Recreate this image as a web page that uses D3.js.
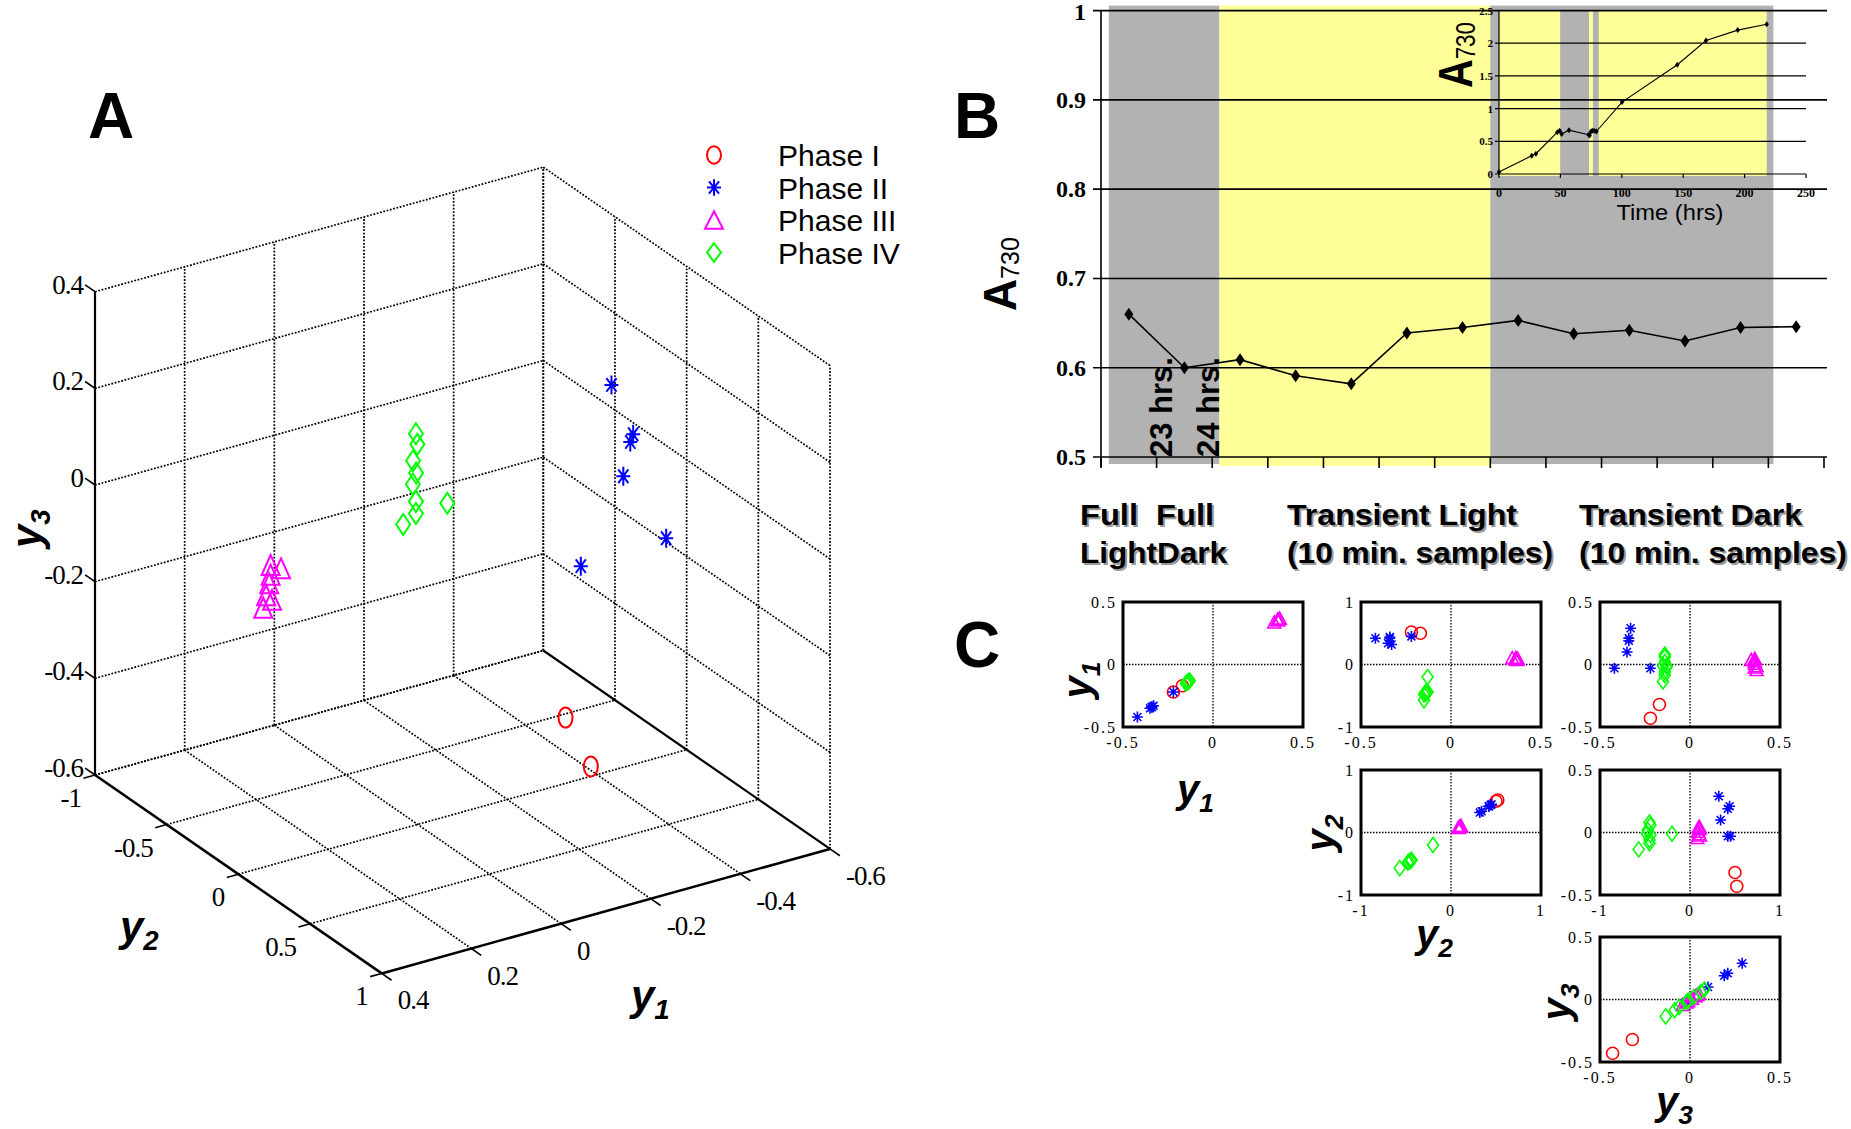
<!DOCTYPE html>
<html>
<head>
<meta charset="utf-8">
<script src="https://cdnjs.cloudflare.com/ajax/libs/d3/7.8.5/d3.min.js"></script>
<style>
  body { margin: 0; background: #fff; }
  svg { display: block; }
</style>
</head>
<body>
<svg id="fig" width="1851" height="1129"></svg>
<script>
// ---------- data ----------
const phaseNames   = ["Phase I", "Phase II", "Phase III", "Phase IV"];
const phaseColors  = ["#ff0000", "#0000ff", "#ff00ff", "#00ff00"];
const phaseSymbols = ["circle", "star", "triangle", "diamond"];

// principal-component scores [y1, y2, y3] of each sample
const phase1Scores = [[-0.22, 0.52, -0.43], [-0.17, 0.50, -0.32]];
const phase2Scores = [[-0.33, 0.32, 0.29], [-0.34, 0.44, 0.21], [-0.34, 0.42, 0.19],
                      [-0.35, 0.34, 0.10], [-0.42, 0.42, -0.03], [-0.22, 0.45, -0.03]];
const phase3Scores = [[0.36, 0.10, 0.05], [0.34, 0.11, 0.04], [0.36, 0.10, 0.03],
                      [0.36, 0.09, 0.01], [0.37, 0.10, -0.01], [0.36, 0.11, -0.02],
                      [0.37, 0.08, -0.04]];
const phase4Scores = [[-0.14, -0.45, 0.08], [-0.14, -0.44, 0.06], [-0.14, -0.47, 0.02],
                      [-0.15, -0.48, -0.01], [-0.13, -0.44, -0.02], [-0.14, -0.45, -0.06],
                      [-0.14, -0.45, -0.085], [-0.15, -0.57, -0.135], [-0.13, -0.20, -0.01]];
const phaseScores = [phase1Scores, phase2Scores, phase3Scores, phase4Scores];

const y1Ticks = [0.4, 0.2, 0, -0.2, -0.4, -0.6];
const y2Ticks = [-1, -0.5, 0, 0.5, 1];
const y3Ticks = [-0.6, -0.4, -0.2, 0, 0.2, 0.4];

// panel B: absorbance of consecutive samples across the light / dark regime
const sampleNo = [1, 2, 3, 4, 5, 6, 7, 8, 9, 10, 11, 12, 13];
const a730 = [0.660, 0.600, 0.609, 0.591, 0.582, 0.639, 0.645, 0.653, 0.638, 0.642, 0.630, 0.645, 0.646];
const a730Ticks = [0.5, 0.6, 0.7, 0.8, 0.9, 1];
const regimeSpans = [
  { from: 0.14, to: 2.13, kind: "dark" },
  { from: 2.13, to: 7.0, kind: "light" },
  { from: 7.0, to: 12.09, kind: "dark" }
];
const sampleNotes = [{ at: 1.27, text: "23 hrs." }, { at: 2.13, text: "24 hrs." }];

// inset: whole growth curve
const growthHrs  = [0, 26.6, 30.1, 47.5, 49.4, 51.0, 57, 73, 73.8, 74.9, 76, 77.6, 79.3, 100.2, 145.2, 168.6, 194.4, 218];
const growthA730 = [0.03, 0.28, 0.31, 0.64, 0.66, 0.61, 0.67, 0.60, 0.59, 0.65, 0.66, 0.66, 0.65, 1.10, 1.67, 2.04, 2.20, 2.29];
const growthSpans = [
  { from: 0, to: 50, kind: "light" },
  { from: 50, to: 73.3, kind: "dark" },
  { from: 73.3, to: 76.5, kind: "light" },
  { from: 76.5, to: 81.2, kind: "dark" },
  { from: 81.2, to: 218, kind: "light" }
];
const growthXTicks = [0, 50, 100, 150, 200, 250];
const growthYTicks = [0, 0.5, 1, 1.5, 2, 2.5];

// panel C: pairwise score plots
const cHeaders = [
  { lines: ["Full\u00a0\u00a0Full", "LightDark"], x: 1080, w: [134, 147] },
  { lines: ["Transient Light", "(10 min. samples)"], x: 1287, w: [230, 266] },
  { lines: ["Transient Dark", "(10 min. samples)"], x: 1579, w: [223, 268] }
];
const cPanels = [
  { col: 0, row: 0, xi: 0, yi: 0, xDom: [-0.5, 0.5], yDom: [-0.5, 0.5] },
  { col: 1, row: 0, xi: 0, yi: 1, xDom: [-0.5, 0.5], yDom: [-1, 1] },
  { col: 2, row: 0, xi: 0, yi: 2, xDom: [-0.5, 0.5], yDom: [-0.5, 0.5] },
  { col: 1, row: 1, xi: 1, yi: 1, xDom: [-1, 1], yDom: [-1, 1] },
  { col: 2, row: 1, xi: 1, yi: 2, xDom: [-1, 1], yDom: [-0.5, 0.5] },
  { col: 2, row: 2, xi: 2, yi: 2, xDom: [-0.5, 0.5], yDom: [-0.5, 0.5] }
];

// ---------- helpers ----------
const svg = d3.select("#fig");
const SERIF = "'Liberation Serif', 'Times New Roman', serif";
const SANS = "'Liberation Sans', Arial, sans-serif";
const num = v => d3.format("~g")(v).replace("\u2212", "-");

function markerPath(sym, w, h) {
  const a = w / 2, b = h / 2;
  if (sym === "circle") return `M${-a},0A${a},${b} 0 1,0 ${a},0A${a},${b} 0 1,0 ${-a},0Z`;
  if (sym === "star") {
    const da = a * 0.72, db = b * 0.72;
    return `M0,${-b}V${b}M${-a},0H${a}M${-da},${-db}L${da},${db}M${-da},${db}L${da},${-db}`;
  }
  if (sym === "triangle") return `M0,${-b}L${a},${b}L${-a},${b}Z`;
  return `M0,${-b}L${a},0L0,${b}L${-a},0Z`;
}
const bigMarker = { circle: [14, 20], star: [14, 19], triangle: [18, 20], diamond: [14, 21] };
const smallMarker = { circle: [12, 12], star: [11, 11], triangle: [13, 12], diamond: [11, 15] };

// subscripted axis name such as y₁
function varLabel(g, x, y, idx, opts) {
  const t = g.append("text")
    .attr("transform", `translate(${x},${y})${opts.rotate ? " rotate(-90)" : ""}`)
    .attr("text-anchor", opts.anchor || "start")
    .attr("font-family", SANS).attr("font-weight", "bold").attr("font-style", "italic")
    .attr("font-size", opts.size || 40);
  t.append("tspan").text("y");
  t.append("tspan").attr("dy", 9).attr("font-size", (opts.size || 40) * 0.66).text(String(idx + 1));
  return t;
}

// ---------- panel A: 3-D score plot ----------
const gA = svg.append("g");
const s1 = d3.scaleLinear().domain([0.4, -0.6]).range([0, 1]);
const s2 = d3.scaleLinear().domain([-1, 1]).range([0, 1]);
const s3 = d3.scaleLinear().domain([-0.6, 0.4]).range([0, 1]);
const O = [95, 775], E1 = [448.3, -124.5], E2 = [286.7, 198.4], E3 = [0, -483.3];
function P(a, b, c) {
  const u = s1(a), v = s2(b), w = s3(c);
  return [O[0] + u * E1[0] + v * E2[0] + w * E3[0], O[1] + u * E1[1] + v * E2[1] + w * E3[1]];
}
function seg(g, p, q, dotted, width) {
  g.append("line").attr("x1", p[0]).attr("y1", p[1]).attr("x2", q[0]).attr("y2", q[1])
    .attr("stroke", "#000").attr("stroke-width", width || (dotted ? 1.7 : 2.2))
    .attr("stroke-dasharray", dotted ? "1.8 1.6" : null);
}
const y1Min = -0.6, y1Max = 0.4, y2Min = -1, y2Max = 1, y3Min = -0.6, y3Max = 0.4;
// back-left wall (y2 = -1)
y1Ticks.filter(v => v !== y1Max).forEach(v => seg(gA, P(v, y2Min, y3Min), P(v, y2Min, y3Max), true));
y3Ticks.forEach(v => seg(gA, P(y1Max, y2Min, v), P(y1Min, y2Min, v), true));
// back-right wall (y1 = -0.6)
y2Ticks.forEach(v => seg(gA, P(y1Min, v, y3Min), P(y1Min, v, y3Max), true));
y3Ticks.filter(v => v !== y3Min).forEach(v => seg(gA, P(y1Min, y2Min, v), P(y1Min, y2Max, v), true));
// floor (y3 = -0.6)
y1Ticks.filter(v => v !== y1Max && v !== y1Min).forEach(v => seg(gA, P(v, y2Min, y3Min), P(v, y2Max, y3Min), true));
y2Ticks.filter(v => v !== y2Max).forEach(v => seg(gA, P(y1Max, v, y3Min), P(y1Min, v, y3Min), true));
// solid axes
seg(gA, P(y1Max, y2Min, y3Min), P(y1Max, y2Min, y3Max), false);
seg(gA, P(y1Max, y2Min, y3Min), P(y1Max, y2Max, y3Min), false, 2.6);
seg(gA, P(y1Max, y2Max, y3Min), P(y1Min, y2Max, y3Min), false, 2.6);
seg(gA, P(y1Min, y2Min, y3Min), P(y1Min, y2Max, y3Min), false, 2.2);

const len = v => Math.hypot(v[0], v[1]);
const dirY1 = [-E1[0] / len(E1), -E1[1] / len(E1)];   // towards larger y1
const dirY2 = [E2[0] / len(E2), E2[1] / len(E2)];     // towards larger y2
const TICK = 12;
// y3 axis ticks + labels
y3Ticks.forEach(v => {
  const p = P(y1Max, y2Min, v);
  seg(gA, p, [p[0] - dirY2[0] * TICK, p[1] - dirY2[1] * TICK], false, 1.6);
  gA.append("text").attr("x", p[0] - 12).attr("y", p[1] - 7).attr("text-anchor", "end")
    .attr("dominant-baseline", "central").attr("font-family", SERIF).attr("font-size", 27)
    .attr("letter-spacing", -1).text(num(v));
});
// y2 axis ticks + labels
y2Ticks.forEach(v => {
  const p = P(y1Max, v, y3Min);
  seg(gA, p, [p[0] + dirY1[0] * TICK, p[1] + dirY1[1] * TICK], false, 1.6);
  gA.append("text").attr("x", p[0] - 14).attr("y", p[1] + 23).attr("text-anchor", "end")
    .attr("dominant-baseline", "central").attr("font-family", SERIF).attr("font-size", 27)
    .attr("letter-spacing", -1).text(num(v));
});
// y1 axis ticks + labels
y1Ticks.forEach(v => {
  const p = P(v, y2Max, y3Min);
  seg(gA, p, [p[0] + dirY2[0] * TICK, p[1] + dirY2[1] * TICK], false, 1.6);
  gA.append("text").attr("x", p[0] + 16).attr("y", p[1] + 27).attr("text-anchor", "start")
    .attr("dominant-baseline", "central").attr("font-family", SERIF).attr("font-size", 27)
    .attr("letter-spacing", -1).text(num(v));
});
varLabel(gA, 41, 548, 2, { rotate: true, size: 42 });
varLabel(gA, 120, 941, 1, { size: 42 });
varLabel(gA, 631, 1010, 0, { size: 42 });

// 3-D markers
phaseScores.forEach((pts, k) => {
  const [w, h] = bigMarker[phaseSymbols[k]];
  gA.append("g").selectAll("path").data(pts).join("path")
    .attr("transform", d => { const p = P(d[0], d[1], d[2]); return `translate(${p[0]},${p[1]})`; })
    .attr("d", markerPath(phaseSymbols[k], w, h))
    .attr("fill", "none").attr("stroke", phaseColors[k]).attr("stroke-width", 2);
});

// legend
phaseNames.forEach((name, k) => {
  const yRow = 155 + k * 32.5;
  const [w, h] = bigMarker[phaseSymbols[k]];
  gA.append("path").attr("transform", `translate(714,${yRow})`)
    .attr("d", markerPath(phaseSymbols[k], w, h * 0.88))
    .attr("fill", "none").attr("stroke", phaseColors[k]).attr("stroke-width", 2);
  gA.append("text").attr("x", 778).attr("y", yRow + 11).attr("font-family", SANS)
    .attr("font-size", 30).text(name);
});

// ---------- panel B ----------
const gB = svg.append("g");
const xIdx = d3.scaleLinear().domain([0, 13]).range([1101, 1824]);
const yB = d3.scaleLinear().domain([0.5, 1]).range([457, 10.6]);
const GRAY = "#b2b2b2", YELLOW = "#ffff99";

regimeSpans.forEach(s => {
  gB.append("rect").attr("x", xIdx(s.from)).attr("width", xIdx(s.to) - xIdx(s.from))
    .attr("y", yB(1) - 5).attr("height", yB(0.5) - yB(1) + (s.kind === "dark" ? 12 : 14))
    .attr("fill", s.kind === "dark" ? GRAY : YELLOW);
});

// inset scales and background
const xT = d3.scaleLinear().domain([0, 250]).range([1499, 1806]);
const yT = d3.scaleLinear().domain([0, 2.5]).range([174, 10.5]);
growthSpans.forEach(s => {
  gB.append("rect").attr("x", xT(s.from)).attr("width", xT(s.to) - xT(s.from))
    .attr("y", yT(2.5)).attr("height", yT(0) - yT(2.5) + 2)
    .attr("fill", s.kind === "dark" ? GRAY : YELLOW);
});

// main gridlines and axes
a730Ticks.forEach(v => {
  gB.append("line").attr("x1", 1093).attr("x2", 1827).attr("y1", yB(v)).attr("y2", yB(v))
    .attr("stroke", "#000").attr("stroke-width", 1.6);
  gB.append("text").attr("x", 1086).attr("y", yB(v) + (v === 1 ? 1.5 : 0)).attr("text-anchor", "end")
    .attr("dominant-baseline", "central").attr("font-family", SERIF).attr("font-weight", "bold")
    .attr("font-size", 24).text(num(v));
});
gB.append("line").attr("x1", 1101).attr("x2", 1101).attr("y1", yB(1)).attr("y2", yB(0.5) + 10)
  .attr("stroke", "#000").attr("stroke-width", 1.6);
d3.range(0, 14).forEach(i => {
  gB.append("line").attr("x1", xIdx(i)).attr("x2", xIdx(i)).attr("y1", yB(0.5)).attr("y2", yB(0.5) + 11)
    .attr("stroke", "#000").attr("stroke-width", 1.6);
});

// inset gridlines, axes, ticks
growthYTicks.forEach(v => {
  gB.append("line").attr("x1", xT(0) - 4).attr("x2", xT(250)).attr("y1", yT(v)).attr("y2", yT(v))
    .attr("stroke", "#000").attr("stroke-width", 1.2);
  gB.append("text").attr("x", xT(0) - 6).attr("y", yT(v)).attr("text-anchor", "end")
    .attr("dominant-baseline", "central").attr("font-family", SERIF).attr("font-weight", "bold")
    .attr("font-size", 11).text(num(v));
});
gB.append("line").attr("x1", xT(0)).attr("x2", xT(0)).attr("y1", yT(2.5)).attr("y2", yT(0))
  .attr("stroke", "#000").attr("stroke-width", 1.2);
growthXTicks.forEach(v => {
  gB.append("line").attr("x1", xT(v)).attr("x2", xT(v)).attr("y1", yT(0)).attr("y2", yT(0) + 4)
    .attr("stroke", "#000").attr("stroke-width", 1.2);
  gB.append("text").attr("x", xT(v)).attr("y", 197).attr("text-anchor", "middle")
    .attr("font-family", SERIF).attr("font-weight", "bold").attr("font-size", 12).text(v);
});
gB.append("text").attr("x", 1670).attr("y", 220).attr("text-anchor", "middle")
  .attr("font-family", SANS).attr("font-size", 22).attr("textLength", 107)
  .attr("lengthAdjust", "spacingAndGlyphs").text("Time (hrs)");

// inset curve
gB.append("path").datum(growthHrs.map((t, i) => [t, growthA730[i]]))
  .attr("d", d3.line().x(d => xT(d[0])).y(d => yT(d[1])))
  .attr("fill", "none").attr("stroke", "#000").attr("stroke-width", 1.1);
gB.append("g").selectAll("path").data(growthHrs.map((t, i) => [t, growthA730[i]])).join("path")
  .attr("transform", d => `translate(${xT(d[0])},${yT(d[1])})`)
  .attr("d", markerPath("diamond", 4.5, 6)).attr("fill", "#000");

// A730 labels
function absLabel(x, y, big, sub, total) {
  const t = gB.append("text").attr("transform", `translate(${x},${y}) rotate(-90)`)
    .attr("font-family", SANS).attr("textLength", total).attr("lengthAdjust", "spacingAndGlyphs");
  t.append("tspan").attr("font-weight", "bold").attr("font-size", big).text("A");
  t.append("tspan").attr("font-size", sub).attr("dy", 3).text("730");
}
absLabel(1016, 311, 46, 26, 74);
absLabel(1472, 88, 48, 27, 66);

// main series
const mainPts = sampleNo.map((n, i) => [xIdx(i + 0.5), yB(a730[i])]);
gB.append("path").datum(mainPts).attr("d", d3.line())
  .attr("fill", "none").attr("stroke", "#000").attr("stroke-width", 1.6);
gB.append("g").selectAll("path").data(mainPts).join("path")
  .attr("transform", d => `translate(${d[0]},${d[1]})`)
  .attr("d", markerPath("diamond", 9, 13)).attr("fill", "#000");

// hour annotations
sampleNotes.forEach(n => {
  gB.append("text").attr("transform", `translate(${xIdx(n.at)},${457}) rotate(-90)`)
    .attr("font-family", SANS).attr("font-weight", "bold").attr("font-size", 31).text(n.text);
});

// ---------- panel C ----------
const gC = svg.append("g");
const colX = [1123, 1361, 1600], rowY = [602, 770, 937], BW = 180, BH = 125;

cHeaders.forEach(hd => {
  hd.lines.forEach((ln, i) => {
    const y = 525 + i * 38;
    [["#9a9a9a", 2], ["#000", 0]].forEach(([fill, off]) => {
      gC.append("text").attr("x", hd.x + off).attr("y", y + off).attr("font-family", SANS)
        .attr("font-weight", "bold").attr("font-size", 30).attr("fill", fill)
        .attr("textLength", hd.w[i]).attr("lengthAdjust", "spacingAndGlyphs").text(ln);
    });
  });
});

cPanels.forEach(pn => {
  const x0 = colX[pn.col], y0 = rowY[pn.row];
  const sx = d3.scaleLinear().domain(pn.xDom).range([x0, x0 + BW]);
  const sy = d3.scaleLinear().domain(pn.yDom).range([y0 + BH, y0]);
  const g = gC.append("g");
  // zero lines
  g.append("line").attr("x1", sx(0)).attr("x2", sx(0)).attr("y1", y0).attr("y2", y0 + BH)
    .attr("stroke", "#000").attr("stroke-width", 1.3).attr("stroke-dasharray", "1.5 1.5");
  g.append("line").attr("x1", x0).attr("x2", x0 + BW).attr("y1", sy(0)).attr("y2", sy(0))
    .attr("stroke", "#000").attr("stroke-width", 1.3).attr("stroke-dasharray", "1.5 1.5");
  // points
  phaseScores.forEach((pts, k) => {
    const [w, h] = smallMarker[phaseSymbols[k]];
    g.append("g").selectAll("path").data(pts).join("path")
      .attr("transform", d => `translate(${sx(d[pn.xi])},${sy(d[pn.yi])})`)
      .attr("d", markerPath(phaseSymbols[k], w, h))
      .attr("fill", "none").attr("stroke", phaseColors[k]).attr("stroke-width", 1.6);
  });
  // frame
  g.append("rect").attr("x", x0).attr("y", y0).attr("width", BW).attr("height", BH)
    .attr("fill", "none").attr("stroke", "#000").attr("stroke-width", 3);
  // tick labels
  [pn.xDom[0], 0, pn.xDom[1]].forEach(v => {
    g.append("text").attr("x", sx(v)).attr("y", y0 + BH + 21).attr("text-anchor", "middle")
      .attr("font-family", SERIF).attr("font-size", 16).attr("letter-spacing", 2).text(num(v));
  });
  [pn.yDom[0], 0, pn.yDom[1]].forEach(v => {
    g.append("text").attr("x", x0 - 6).attr("y", sy(v)).attr("text-anchor", "end")
      .attr("dominant-baseline", "central")
      .attr("font-family", SERIF).attr("font-size", 16).attr("letter-spacing", 2).text(num(v));
  });
});

// variable names
varLabel(gC, 1091, 680, 0, { rotate: true, anchor: "middle", size: 40 });
varLabel(gC, 1334, 833, 1, { rotate: true, anchor: "middle", size: 40 });
varLabel(gC, 1570, 1002, 2, { rotate: true, anchor: "middle", size: 40 });
varLabel(gC, 1177, 803, 0, { size: 40 });
varLabel(gC, 1416, 948, 1, { size: 40 });
varLabel(gC, 1656, 1115, 2, { size: 40 });

// ---------- panel letters ----------
[["A", 88, 138], ["B", 954, 138], ["C", 954, 667]].forEach(([t, x, y]) => {
  svg.append("text").attr("x", x).attr("y", y).attr("font-family", SANS).attr("font-weight", "bold")
    .attr("font-size", 64).text(t);
});
</script>
</body>
</html>
